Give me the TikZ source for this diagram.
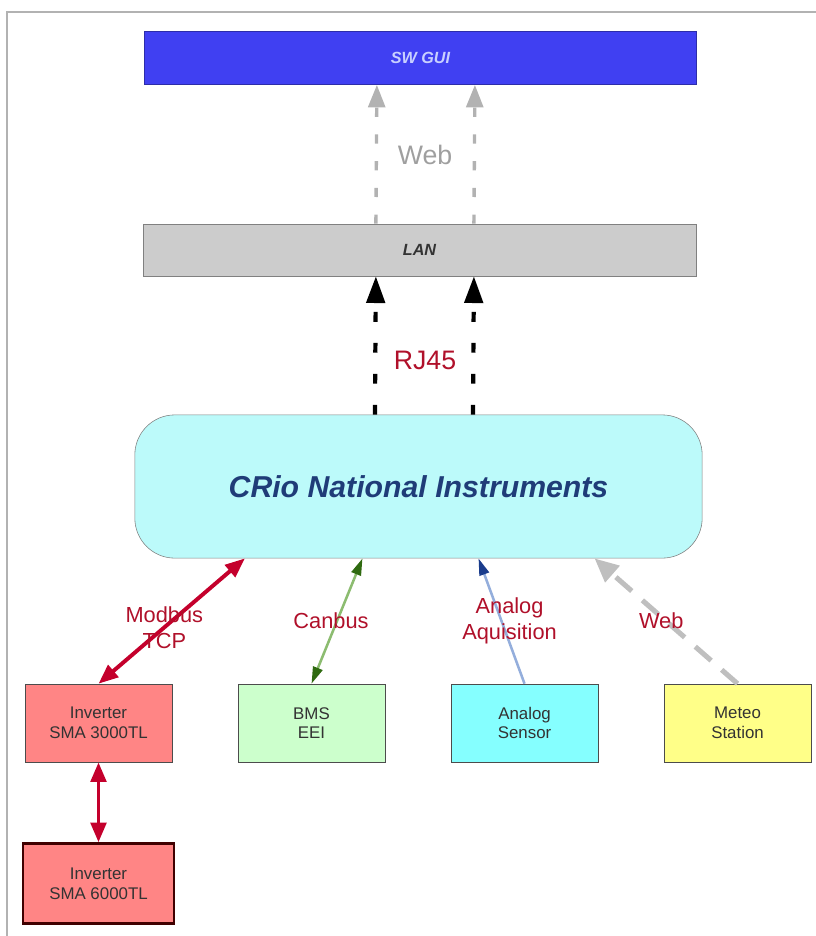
\documentclass[tikz,border=0pt]{standalone}
\usepackage{fontspec}
\setmainfont{Liberation Sans}
\usetikzlibrary{arrows.meta,positioning}
\definecolor{guiblue}{HTML}{4040F2}
\definecolor{guitext}{HTML}{C8D0FF}
\definecolor{langray}{HTML}{CCCCCC}
\definecolor{criocyan}{HTML}{BCFAFA}
\definecolor{crioblue}{HTML}{1F3C78}
\definecolor{lblred}{HTML}{B0102A}
\definecolor{invred}{HTML}{FF8585}
\definecolor{bmsgreen}{HTML}{CCFFCC}
\definecolor{anacyan}{HTML}{85FFFF}
\definecolor{meteoyel}{HTML}{FFFF88}
\definecolor{linkred}{HTML}{C4002C}
\definecolor{linkgreen}{HTML}{2F6A10}
\definecolor{lineggreen}{HTML}{8CBC70}
\definecolor{linkblue}{HTML}{1A3C8C}
\definecolor{lineblue}{HTML}{94AEDC}

\begin{document}
\begin{tikzpicture}[x=0.025cm, y=-0.025cm,
  bar/.style={draw, minimum width=13.8cm, minimum height=1.33cm, inner sep=0pt,
              font=\fontsize{11.5}{13}\selectfont\bfseries\itshape},
  devbox/.style={draw=gray!60!black, minimum width=3.68cm, minimum height=1.95cm,
                 inner sep=0pt, align=center, text=black!80,
                 font=\fontsize{12}{14}\selectfont},
  lbl/.style={text=lblred, align=center, font=\fontsize{15.5}{18.5}\selectfont},
  web/.style={->, >={Triangle[length=16pt,width=12pt]}, gray!60, line width=2.4pt,
              dash pattern=on 6.5pt off 12.5pt},
  rj45/.style={->, >={Triangle[length=19pt,width=13pt]}, black, line width=3pt,
               dash pattern=on 7pt off 15pt},
  modbus/.style={<->, >={Triangle[length=14pt,width=11pt]}, linkred, line width=2.8pt},
  canbus/.style={<->, >={Triangle[length=12pt,width=7pt,color=linkgreen]},
                 lineggreen, line width=1.8pt},
  analog/.style={->, >={Triangle[length=12pt,width=7pt,color=linkblue]},
                 lineblue, line width=1.8pt},
  meteoweb/.style={->, >={Triangle[length=17pt,width=15pt]}, gray!50, line width=3.6pt,
                   dash pattern=on 15pt off 10pt},
]
  \useasboundingbox (0,0) rectangle (816,936);
  % frame
  \draw[gray!60, line width=1.8pt] (7,936) -- (7,12) -- (816,12);

  % GUI and network bars
  \node[bar, fill=guiblue, draw=guiblue!70!black, text=guitext] (gui) at (420.5,58) {SW GUI};
  \node[bar, fill=langray, draw=gray, text=black!80, minimum width=13.83cm,
        minimum height=1.3cm] (lan) at (419.5,250) {LAN};

  % controller
  \node[draw=gray, fill=criocyan, rounded corners=1cm, minimum width=14.18cm,
        minimum height=3.58cm, text=crioblue,
        font=\fontsize{21.5}{24}\selectfont\bfseries\itshape] (crio) at (418.5,486.5)
        {CRio National Instruments};

  % field devices
  \node[devbox, fill=invred] (inv1) at (98.5,723) {Inverter\\SMA 3000TL};
  \node[devbox, fill=bmsgreen, right=1.63cm of inv1] (bms) {BMS\\EEI};
  \node[devbox, fill=anacyan, right=1.63cm of bms] (sensor) {Analog\\Sensor};
  \node[devbox, fill=meteoyel, right=1.63cm of sensor] (meteo) {Meteo\\Station};
  \node[devbox, fill=invred, draw=black!75!red, line width=1.8pt, minimum width=3.78cm,
        minimum height=2cm, below=2cm of inv1] (inv2) {Inverter\\SMA 6000TL};

  % Arrows
  \foreach \dx in {-1.09cm,1.36cm} {
    \draw[web] ([xshift=\dx]lan.north) -- ([xshift=\dx]gui.south);
    \draw[rj45] ([xshift=\dx]crio.north) -- ([xshift=\dx]lan.south);
  }
  \node[text=gray!75, font=\fontsize{19}{22}\selectfont] (weblbl) at (425,155) {Web};
  \node[lbl, font=\fontsize{19}{22}\selectfont] (rjlbl) at (425,360) {RJ45};

  \draw[modbus] (inv1.north) -- node[lbl, pos=0.45] {Modbus\\TCP} ([xshift=-4.34cm]crio.south);
  \draw[canbus] (bms.north) -- node[lbl, xshift=-0.15cm] {Canbus} ([xshift=-1.4cm]crio.south);
  \draw[analog] (sensor.north) -- node[lbl, xshift=0.2cm] {Analog\\Aquisition} ([xshift=1.5cm]crio.south);
  \draw[meteoweb] (meteo.north) -- node[lbl, xshift=-0.12cm] {Web} ([xshift=4.4cm]crio.south);
  \draw[modbus] (inv1.south) -- (inv2.north);

\end{tikzpicture}
\end{document}
